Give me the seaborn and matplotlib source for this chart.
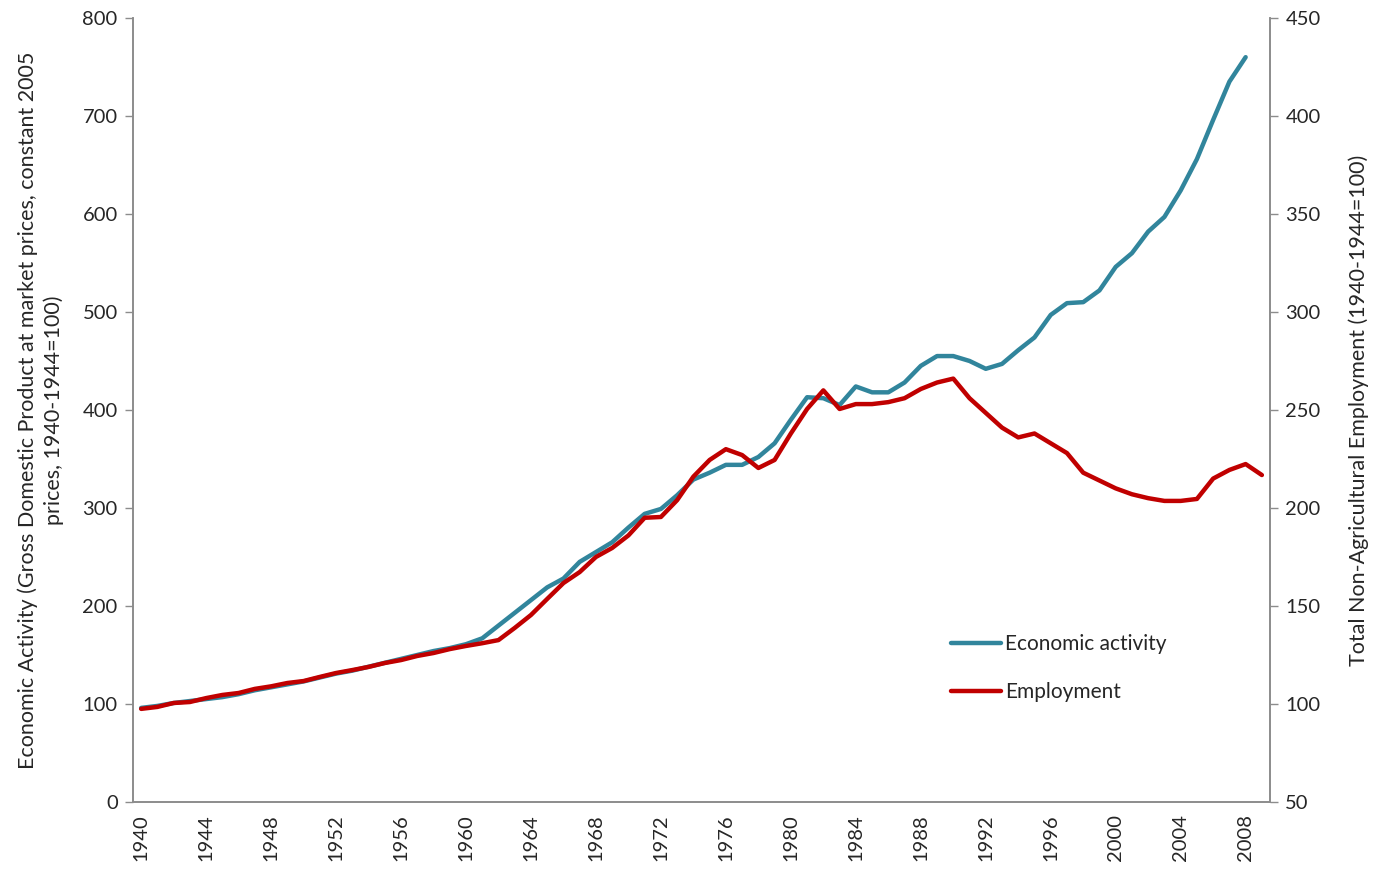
import matplotlib
matplotlib.use("Agg")
import matplotlib.pyplot as plt
import numpy as np
import pandas as pd
import seaborn as sns
from matplotlib.ticker import FixedLocator, NullFormatter

# data (index 1940-1944 = 100)
years_gdp = list(range(1940, 2009))
gdp = [96, 98, 101, 103, 105, 107, 110, 114, 117, 120,
       123, 127, 131, 134, 138, 142, 146, 150, 154, 157,
       161, 167, 180, 193, 206, 219, 228, 245, 255, 265,
       280, 294, 299, 313, 329, 336, 344, 344, 352, 366,
       390, 413, 412, 405, 424, 418, 418, 428, 445, 455,
       455, 450, 442, 447, 461, 474, 497, 509, 510, 522,
       546, 560, 582, 597, 624, 656, 696, 735, 760]

years_emp = list(range(1940, 2010))
employment = [97.5, 98.5, 100.5, 101, 103, 104.6, 105.6, 107.7, 109, 110.7,
              111.7, 113.8, 115.8, 117.3, 118.9, 120.9, 122.4, 124.5, 126, 128,
              129.6, 131, 132.6, 138.8, 145.4, 153.6, 161.7, 167.3, 175, 179.6,
              186, 195, 195.4, 204, 216, 224.5, 230, 227, 220.4, 224.5,
              238, 250.5, 260, 250.5, 253, 253, 254, 256, 260.7, 264,
              266, 256, 248.5, 241, 236, 238, 233, 228, 218, 214,
              210, 207, 205, 203.6, 203.6, 204.6, 215, 219.4, 222.4, 216.8]

label_years = list(range(1940, 2009, 4))

TEAL = "#31859C"
RED = "#C00000"
GREY = "#8C8C8C"

sns.set_style("white")
plt.rcParams["font.family"] = ["Lato", "DejaVu Sans"]

df_gdp = pd.DataFrame({"year": years_gdp, "value": gdp})
df_emp = pd.DataFrame({"year": years_emp, "value": employment})

fig = plt.figure(figsize=(13.77, 8.76), dpi=100)
ax = fig.add_axes([0.0966, 0.0845, 0.8257, 0.895])
ax2 = ax.twinx()

sns.lineplot(data=df_gdp, x="year", y="value", ax=ax, color=TEAL, linewidth=3.2,
             label="Economic activity", legend=False, solid_capstyle="round")
sns.lineplot(data=df_emp, x="year", y="value", ax=ax2, color=RED, linewidth=3.2,
             label="Employment", legend=False, solid_capstyle="round")

ax.set_xlim(1939.5, 2009.5)
ax.set_ylim(0, 800)
ax2.set_ylim(50, 450)
ax.set_yticks(range(0, 801, 100))
ax2.set_yticks(range(50, 451, 50))

# category-style x axis: labels centred, tick marks at boundaries
ax.xaxis.set_major_locator(FixedLocator(label_years))
ax.set_xticklabels([str(y) for y in label_years], rotation=90)
ax.xaxis.set_minor_locator(FixedLocator(np.arange(1939.5, 2010, 2)))
ax.xaxis.set_minor_formatter(NullFormatter())
ax.tick_params(axis="x", which="major", length=0, pad=9, labelsize=14.5)
ax.tick_params(axis="x", which="minor", length=6, width=1, color=GREY, direction="out")

ax.tick_params(axis="y", length=6, width=1, color=GREY, direction="out", labelsize=14.5, pad=5)
ax2.tick_params(axis="y", length=6, width=1, color=GREY, direction="out", labelsize=14.5, pad=5)

for a in (ax, ax2):
    a.spines["top"].set_visible(False)
    for s in ("left", "right", "bottom"):
        a.spines[s].set_color(GREY)
        a.spines[s].set_linewidth(1.2)
    a.grid(False)

ax.set_xlabel("")
ax.set_ylabel("Economic Activity (Gross Domestic Product at market prices, constant 2005\n"
              "prices, 1940-1944=100)", fontsize=15.5, labelpad=13, linespacing=1.35)
ax2.set_ylabel("Total Non-Agricultural Employment (1940-1944=100)", fontsize=15.5, labelpad=20)

h1, l1 = ax.get_legend_handles_labels()
h2, l2 = ax2.get_legend_handles_labels()
ax2.legend(h1 + h2, l1 + l2, loc="upper left", bbox_to_anchor=(0.703, 0.238),
           frameon=False, fontsize=15, handlelength=2.4, handletextpad=0.2,
           labelspacing=1.35)

fig.savefig("out.png", dpi=100)
